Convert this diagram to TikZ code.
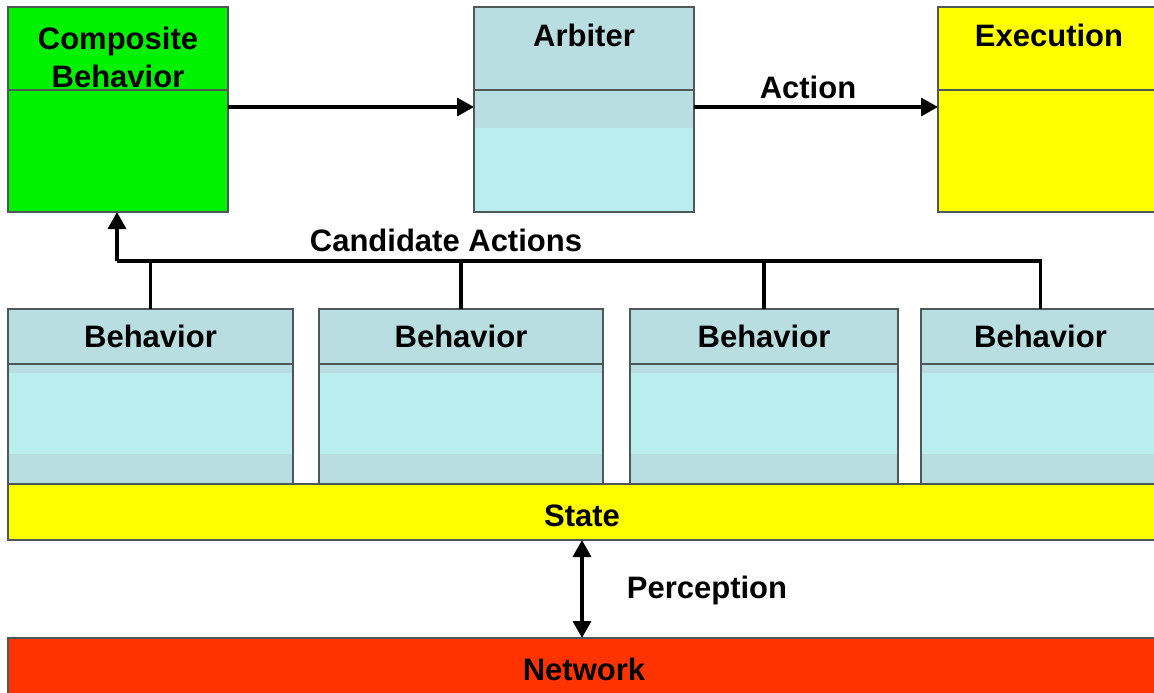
\documentclass[tikz,border=0pt]{standalone}
\usepackage{fontspec}
\setmainfont{Liberation Sans}
\usetikzlibrary{arrows.meta}
\definecolor{boxline}{HTML}{4E5858}
\definecolor{compgreen}{HTML}{00F200}
\definecolor{hdrblue}{HTML}{B9DEE2}
\definecolor{bodyblue}{HTML}{BAEDEE}
\definecolor{statey}{HTML}{FFFF00}
\definecolor{netred}{HTML}{FF3300}
\tikzset{
  box/.style={draw=boxline, line width=1.4pt, inner sep=0pt, outer sep=0pt},
  lbl/.style={font=\fontsize{31}{38}\selectfont\bfseries, inner sep=0pt},
  midtext/.style={text height=22pt, text depth=0pt},
  divline/.style={draw=boxline, line width=1.4pt},
  bus/.style={line width=3.4pt},
  conn/.style={line width=3.4pt, -{Triangle[length=17pt,width=18pt]}},
}
\begin{document}
\begin{tikzpicture}[x=1pt, y=-1pt]
      \useasboundingbox[fill=white] (0,0) rectangle (1154,693);
      % Top row
      \node[box, fill=compgreen, minimum width=220pt, minimum height=205pt] (comp) at (118,109.5) {};
      \node[box, fill=hdrblue, minimum width=220pt, minimum height=205pt,
        path picture={\fill[bodyblue] ([yshift=84pt]path picture bounding box.south west) rectangle (path picture bounding box.south east);}]
        (arb) at (584,109.5) {};
      \node[box, fill=statey, minimum width=222pt, minimum height=205pt] (exec) at (1049,109.5) {};
      \foreach \b in {comp,arb,exec}
        \draw[divline] ([yshift=-83pt]\b.north west) -- ([yshift=-83pt]\b.north east);
      \node[lbl, align=center, anchor=north] (comptxt) at ([yshift=-20pt]comp.north) {Composite\\Behavior};
      \node[lbl, midtext] (arbtxt) at ([yshift=-29pt]arb.north) {Arbiter};
      \node[lbl, midtext] (exectxt) at ([yshift=-29pt]exec.north) {Execution};
      % Behaviors
      \tikzset{behbox/.style={box, fill=hdrblue, minimum height=175pt,
        path picture={\fill[bodyblue] ([yshift=30pt]path picture bounding box.south west) rectangle ([yshift=111pt]path picture bounding box.south east);}}}
      \node[behbox, minimum width=285pt] (beh1) at (150.5,396.5) {};
      \node[behbox, minimum width=284pt] (beh2) at (461,396.5) {};
      \node[behbox, minimum width=268pt] (beh3) at (764,396.5) {};
      \node[behbox, minimum width=239pt] (beh4) at (1040.5,396.5) {};
      \foreach \b in {beh1,beh2,beh3,beh4} {
        \draw[divline] ([yshift=-55pt]\b.north west) -- ([yshift=-55pt]\b.north east);
        \node[lbl, midtext] (\b txt) at ([yshift=-27pt]\b.north) {Behavior};
      }
      % State and network
      \node[box, fill=statey, minimum width=1148pt, minimum height=56pt, lbl, text height=28pt, text depth=0pt] (state) at (582,512) {State};
      \node[box, fill=netred, minimum width=1152pt, minimum height=62pt, lbl, midtext] (net) at (584,669) {Network};
      % Connectors
      \draw[conn] ([yshift=2.5pt]comp.east) -- ([yshift=2.5pt]arb.west);
      \draw[conn] ([yshift=2.5pt]arb.east) -- ([yshift=2.5pt]exec.west);
      \node[lbl, midtext] (acttxt) at (808,88) {Action};
      \coordinate (cbus) at (117,261);
      \draw[bus] (beh4.north) |- (cbus);
      \foreach \b in {beh1,beh2,beh3}
        \draw[bus] (\b.north) -- (\b.north |- cbus);
      \draw[conn] (cbus) -- (cbus |- comp.south);
      \node[lbl, midtext] (candtxt) at (446,240) {Candidate Actions};
      \draw[conn, {Triangle[length=17pt,width=18pt]}-{Triangle[length=17pt,width=18pt]}] (state.south) -- (state.south |- net.north);
      \node[lbl, midtext] (perctxt) at (707,587) {Perception};
    \end{tikzpicture}
\end{document}
